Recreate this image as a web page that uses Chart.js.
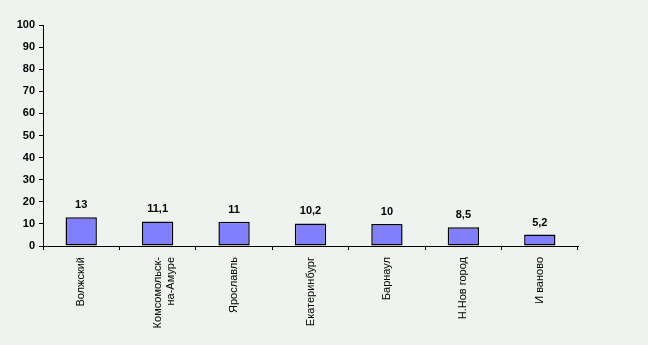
<!DOCTYPE html>
<html>
<head>
<meta charset="utf-8">
<script src="https://cdn.jsdelivr.net/npm/chart.js@4/dist/chart.umd.min.js"></script>
<style>
  html, body { margin: 0; padding: 0; background: #eff3ef; }
  #wrap { width: 648px; height: 345px; position: relative; }
</style>
</head>
<body>
<div id="wrap"><canvas id="chart"></canvas></div>
<script>
const cities = ['Волжский', ['Комсомольск-', 'на-Амуре'], 'Ярославль', 'Екатеринбург', 'Барнаул', 'Н.Нов город', 'И ваново'];
const values = [13, 11.1, 11, 10.2, 10, 8.5, 5.2];
const yTicks = [0, 10, 20, 30, 40, 50, 60, 70, 80, 90, 100];

const FONT = '"Liberation Sans", Arial, sans-serif';

// values above the bars, with a decimal comma
const valueLabels = {
  id: 'valueLabels',
  afterDatasetsDraw(chart) {
    const ctx = chart.ctx;
    const meta = chart.getDatasetMeta(0);
    ctx.save();
    ctx.font = 'bold 11px ' + FONT;
    ctx.fillStyle = '#000';
    ctx.textAlign = 'center';
    ctx.textBaseline = 'alphabetic';
    meta.data.forEach((bar, i) => {
      ctx.fillText(String(values[i]).replace('.', ','), bar.x, bar.y - 9);
    });
    ctx.restore();
  }
};

new Chart(document.getElementById('chart'), {
  type: 'bar',
  data: {
    labels: cities,
    datasets: [{
      data: values,
      backgroundColor: '#8080ff',
      borderColor: '#000',
      borderWidth: 1.5,
      borderSkipped: false,
      barPercentage: 0.82,
      categoryPercentage: 0.5
    }]
  },
  options: {
    responsive: true,
    maintainAspectRatio: false,
    animation: false,
    layout: { padding: { left: 0, right: 70, top: 25, bottom: 0 } },
    plugins: { legend: { display: false }, tooltip: { enabled: false } },
    scales: {
      x: {
        offset: true,
        grid: { offset: true, drawOnChartArea: false, drawTicks: true, tickLength: 4, color: '#000' },
        border: { color: '#000', width: 1 },
        ticks: {
          color: '#000',
          font: { family: FONT, size: 11 },
          maxRotation: 90,
          minRotation: 90,
          autoSkip: false,
          padding: 7
        },
        afterFit(scale) { scale.height = 99; }
      },
      y: {
        min: 0,
        max: 100,
        afterBuildTicks(scale) { scale.ticks = yTicks.map(v => ({ value: v })); },
        grid: { drawOnChartArea: false, drawTicks: true, tickLength: 4, color: '#000' },
        border: { color: '#000', width: 1 },
        ticks: {
          color: '#000',
          font: { family: FONT, size: 11, weight: 'bold' },
          padding: 4
        },
        afterFit(scale) { scale.width = 43; }
      }
    }
  },
  plugins: [valueLabels]
});
</script>
</body>
</html>
